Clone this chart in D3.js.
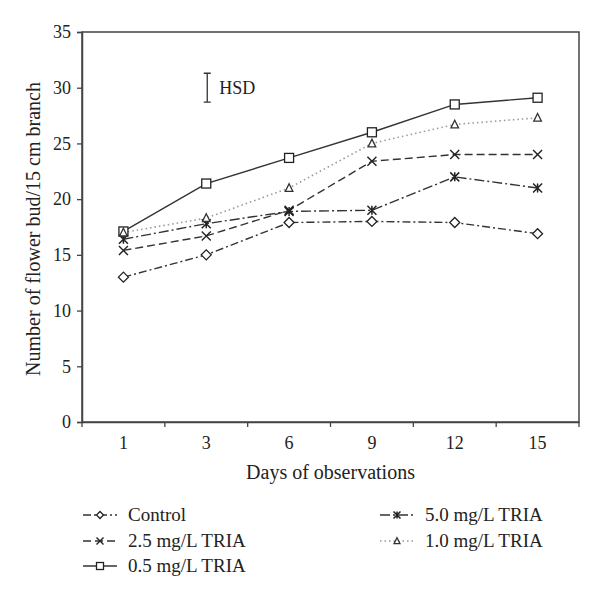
<!DOCTYPE html>
<html><head><meta charset="utf-8">
<script src="https://cdn.jsdelivr.net/npm/d3@7"></script>
<style>body{margin:0;background:#fff}text{font-family:"Liberation Serif",serif;fill:#222}</style>
</head><body><svg id="c" width="600" height="599"></svg>
<script>
const days = ["1","3","6","9","12","15"];
const control = [13.0, 15.0, 17.9, 18.0, 17.9, 16.9];
const tria25 = [15.4, 16.7, 19.0, 23.4, 24.0, 24.0];
const tria05 = [17.1, 21.4, 23.7, 26.0, 28.5, 29.1];
const tria50 = [16.4, 17.8, 18.9, 19.0, 22.0, 21.0];
const tria10 = [17.0, 18.3, 21.0, 25.0, 26.7, 27.3];
const yTicks = [0,5,10,15,20,25,30,35];
const hsd = {day:"3", center:30.0, value:2.6};

const series = [
  {name:"Control", values:control, marker:"diamond", dash:"8,3,2,3", color:"#333"},
  {name:"2.5 mg/L TRIA", values:tria25, marker:"x", dash:"8,4", color:"#333"},
  {name:"0.5 mg/L TRIA", values:tria05, marker:"square", dash:null, color:"#333"},
  {name:"5.0 mg/L TRIA", values:tria50, marker:"asterisk", dash:"10,3,2,3", color:"#333"},
  {name:"1.0 mg/L TRIA", values:tria10, marker:"triangle", dash:"1.5,3", color:"#999"}
];

const svg = d3.select("#c");
const L=82, R=579, T=32, B=422;
const x = d3.scaleBand().domain(days).range([L,R]);
const y = d3.scaleLinear().domain([0,35]).range([B,T]);
const axisColor="#444";

svg.append("rect").attr("x",L).attr("y",T).attr("width",R-L).attr("height",B-T)
  .attr("fill","none").attr("stroke",axisColor).attr("stroke-width",1.5);

const ya = svg.append("g").attr("transform",`translate(${L},0)`)
  .call(d3.axisLeft(y).tickValues(yTicks).tickSize(5).tickPadding(6));
ya.select(".domain").attr("stroke",axisColor).attr("stroke-width",1.5);
ya.selectAll(".tick line").attr("stroke",axisColor).attr("stroke-width",1.3);
ya.selectAll("text").attr("font-size",18).attr("font-family","Liberation Serif").attr("fill","#222");

const xa = svg.append("g").attr("transform",`translate(0,${B})`)
  .call(d3.axisBottom(x).tickSize(0).tickPadding(14));
xa.select(".domain").attr("stroke",axisColor).attr("stroke-width",1.5);
xa.selectAll("text").attr("font-size",18).attr("font-family","Liberation Serif").attr("fill","#222");
const bounds = days.map(d=>x(d)).concat([R]);
svg.append("g").selectAll("line").data(bounds).join("line")
  .attr("x1",d=>d).attr("x2",d=>d).attr("y1",B).attr("y2",B+5)
  .attr("stroke",axisColor).attr("stroke-width",1.3);

svg.append("text").attr("x",(L+R)/2).attr("y",479).attr("text-anchor","middle")
  .attr("font-size",20).text("Days of observations");
svg.append("text").attr("transform",`translate(40,229) rotate(-90)`).attr("text-anchor","middle")
  .attr("font-size",20).text("Number of flower bud/15 cm branch");

function drawMarker(g, type, cx, cy, s, color){
  const h=s/2;
  if(type==="diamond"){
    g.append("path").attr("d",`M${cx},${cy-h}L${cx+h},${cy}L${cx},${cy+h}L${cx-h},${cy}Z`)
      .attr("fill","#fff").attr("stroke",color).attr("stroke-width",1.3);
  } else if(type==="square"){
    g.append("rect").attr("x",cx-h).attr("y",cy-h).attr("width",s).attr("height",s)
      .attr("fill","#fff").attr("stroke",color).attr("stroke-width",1.3);
  } else if(type==="triangle"){
    const hh=h*0.95;
    g.append("path").attr("d",`M${cx},${cy-hh}L${cx+h*0.85},${cy+hh*0.8}L${cx-h*0.85},${cy+hh*0.8}Z`)
      .attr("fill","#fff").attr("stroke","#333").attr("stroke-width",1.3);
  } else if(type==="x"){
    g.append("path").attr("d",`M${cx-h},${cy-h}L${cx+h},${cy+h}M${cx-h},${cy+h}L${cx+h},${cy-h}`)
      .attr("stroke",color).attr("stroke-width",1.4);
  } else if(type==="asterisk"){
    g.append("path").attr("d",`M${cx-h},${cy-h}L${cx+h},${cy+h}M${cx-h},${cy+h}L${cx+h},${cy-h}M${cx},${cy-h}L${cx},${cy+h}`)
      .attr("stroke",color).attr("stroke-width",1.5);
  }
}

const line = d3.line().x((v,i)=>x(days[i])+x.bandwidth()/2).y(v=>y(v));
const plot = svg.append("g");
series.forEach(s=>{
  plot.append("path").attr("d",line(s.values)).attr("fill","none")
    .attr("stroke",s.color).attr("stroke-width",s.marker==="triangle"?1.6:1.4)
    .attr("stroke-dasharray",s.dash);
});
series.forEach(s=>{
  s.values.forEach((v,i)=>{
    drawMarker(plot, s.marker, x(days[i])+x.bandwidth()/2, y(v), s.marker==="diamond"?10:9, "#222");
  });
});

const hx = x(hsd.day)+x.bandwidth()/2+1;
const hy1 = y(hsd.center+hsd.value/2), hy2 = y(hsd.center-hsd.value/2);
svg.append("path").attr("d",`M${hx-3.5},${hy1}H${hx+3.5}M${hx},${hy1}V${hy2}M${hx-3.5},${hy2}H${hx+3.5}`)
  .attr("stroke","#333").attr("stroke-width",1.3).attr("fill","none");
svg.append("text").attr("x",hx+12).attr("y",(hy1+hy2)/2+6).attr("font-size",18).text("HSD");

const legPos = [[83,515],[83,541],[83,566],[380,515],[380,541]];
series.forEach((s,i)=>{
  const [lx,ly]=legPos[i];
  const g = svg.append("g");
  g.append("line").attr("x1",lx).attr("x2",lx+34).attr("y1",ly).attr("y2",ly)
    .attr("stroke",s.color).attr("stroke-width",1.4).attr("stroke-dasharray",s.dash);
  drawMarker(g, s.marker, lx+17, ly, 7, "#222");
  g.append("text").attr("x",lx+45).attr("y",ly+6).attr("font-size",19).text(s.name);
});
</script></body></html>
